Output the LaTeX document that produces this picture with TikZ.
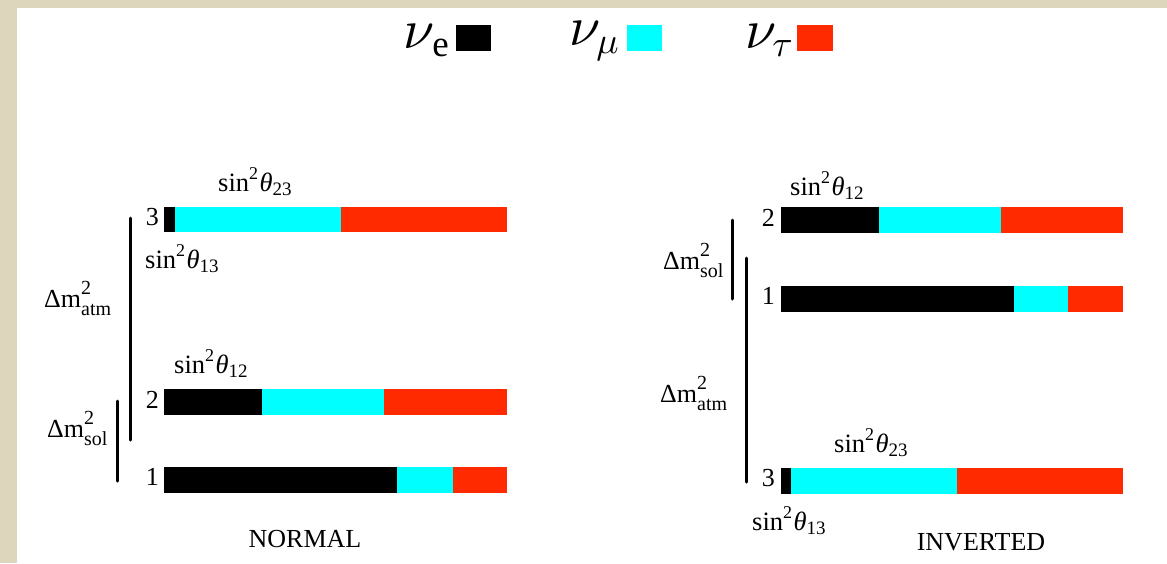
\documentclass[tikz,border=0pt]{standalone}
\usepackage{fontspec}
\setmainfont{Liberation Serif}
\definecolor{nucyan}{RGB}{0,255,255}
\definecolor{nured}{RGB}{255,42,0}
\definecolor{framebg}{RGB}{222,214,188}
\newcommand\sinsq[1]{sin\raisebox{0.42em}{\fontsize{18}{18}\selectfont 2}\kern1.5pt\textit{θ}\raisebox{-0.17em}{\fontsize{19}{19}\selectfont #1}}
\newcommand\dmsq[1]{Δm\rlap{\raisebox{0.5em}{\fontsize{20}{20}\selectfont 2}}\raisebox{-0.32em}{\fontsize{20}{20}\selectfont #1}}
\newcommand\bignu{\scalebox{5.6}{$\nu$}}
\newcommand\nusub[1]{\raisebox{-8pt}{\scalebox{3.7}{#1}}}
\begin{document}
\begin{tikzpicture}[x=1pt,y=-1pt,
  lbl/.style={inner sep=0, anchor=base west, font=\fontsize{26.5}{30}\selectfont},
  dmlbl/.style={inner sep=0, anchor=base west, font=\fontsize{26}{30}\selectfont},
  num/.style={inner sep=0, anchor=base east, font=\fontsize{26}{30}\selectfont},
  ttl/.style={inner sep=0, anchor=base, font=\fontsize{26}{30}\selectfont},
  legnu/.style={inner sep=0, anchor=base west, font=\fontsize{10}{12}\selectfont},
  bracket/.style={line width=3pt, line cap=round}]
% frame
\fill[framebg] (0,0) rectangle (1167,563);
\fill[white] (17,8) rectangle (1167,563);
\useasboundingbox (0,0) rectangle (1167,563);
% legend
\node[legnu] (le) at (403,48) {\bignu\kern-2pt\nusub{e}};
\fill[black] (456,25) rectangle (491,51);
\node[legnu] (lm) at (569,45) {\bignu\kern-4pt\nusub{$\mu$}};
\fill[nucyan] (627,25) rectangle (662,51);
\node[legnu] (lt) at (745,48) {\bignu\kern-4pt\nusub{$\tau$}};
\fill[nured] (797,25) rectangle (833,51);
% ---------- NORMAL ----------
\fill[black] (164,207) rectangle (175,232);
\fill[nucyan] (175,207) rectangle (341,232);
\fill[nured] (341,207) rectangle (507,232);
\fill[black] (164,389) rectangle (262,415);
\fill[nucyan] (262,389) rectangle (384,415);
\fill[nured] (384,389) rectangle (507,415);
\fill[black] (164,467) rectangle (397,493);
\fill[nucyan] (397,467) rectangle (453,493);
\fill[nured] (453,467) rectangle (507,493);
\node[num] (n3) at (159,225) {3};
\node[num] (n2) at (159,408) {2};
\node[num] (n1) at (159,485) {1};
\node[lbl] (ns23) at (218,191) {\sinsq{23}};
\node[lbl] (ns13) at (145,268) {\sinsq{13}};
\node[lbl] (ns12) at (174,373) {\sinsq{12}};
\coordinate (na1) at (130,218); \coordinate (na2) at (130,440);
\draw[bracket] (na1) -- (na2);
\coordinate (nsl1) at (117,401); \coordinate (nsl2) at (117,481);
\draw[bracket] (nsl1) -- (nsl2);
\node[dmlbl] (ndatm) at (44,307) {\dmsq{atm}};
\node[dmlbl] (ndsol) at (47,437) {\dmsq{sol}};
\node[ttl] (normal) at (305,547) {NORMAL};
% ---------- INVERTED ----------
\fill[black] (781,207) rectangle (879,233);
\fill[nucyan] (879,207) rectangle (1001,233);
\fill[nured] (1001,207) rectangle (1123,233);
\fill[black] (781,286) rectangle (1014,312);
\fill[nucyan] (1014,286) rectangle (1068,312);
\fill[nured] (1068,286) rectangle (1123,312);
\fill[black] (781,468) rectangle (791,494);
\fill[nucyan] (791,468) rectangle (957,494);
\fill[nured] (957,468) rectangle (1123,494);
\node[num] (i2) at (775,226) {2};
\node[num] (i1) at (775,304) {1};
\node[num] (i3) at (775,486) {3};
\node[lbl] (is12) at (790,195) {\sinsq{12}};
\node[lbl] (is23) at (834,452) {\sinsq{23}};
\node[lbl] (is13) at (752,530) {\sinsq{13}};
\coordinate (isl1) at (732,220); \coordinate (isl2) at (732,299);
\draw[bracket] (isl1) -- (isl2);
\coordinate (ia1) at (746,258); \coordinate (ia2) at (746,482);
\draw[bracket] (ia1) -- (ia2);
\node[dmlbl] (idsol) at (663,269) {\dmsq{sol}};
\node[dmlbl] (idatm) at (660,402) {\dmsq{atm}};
\node[ttl] (inverted) at (981,550) {INVERTED};
\end{tikzpicture}
\end{document}
